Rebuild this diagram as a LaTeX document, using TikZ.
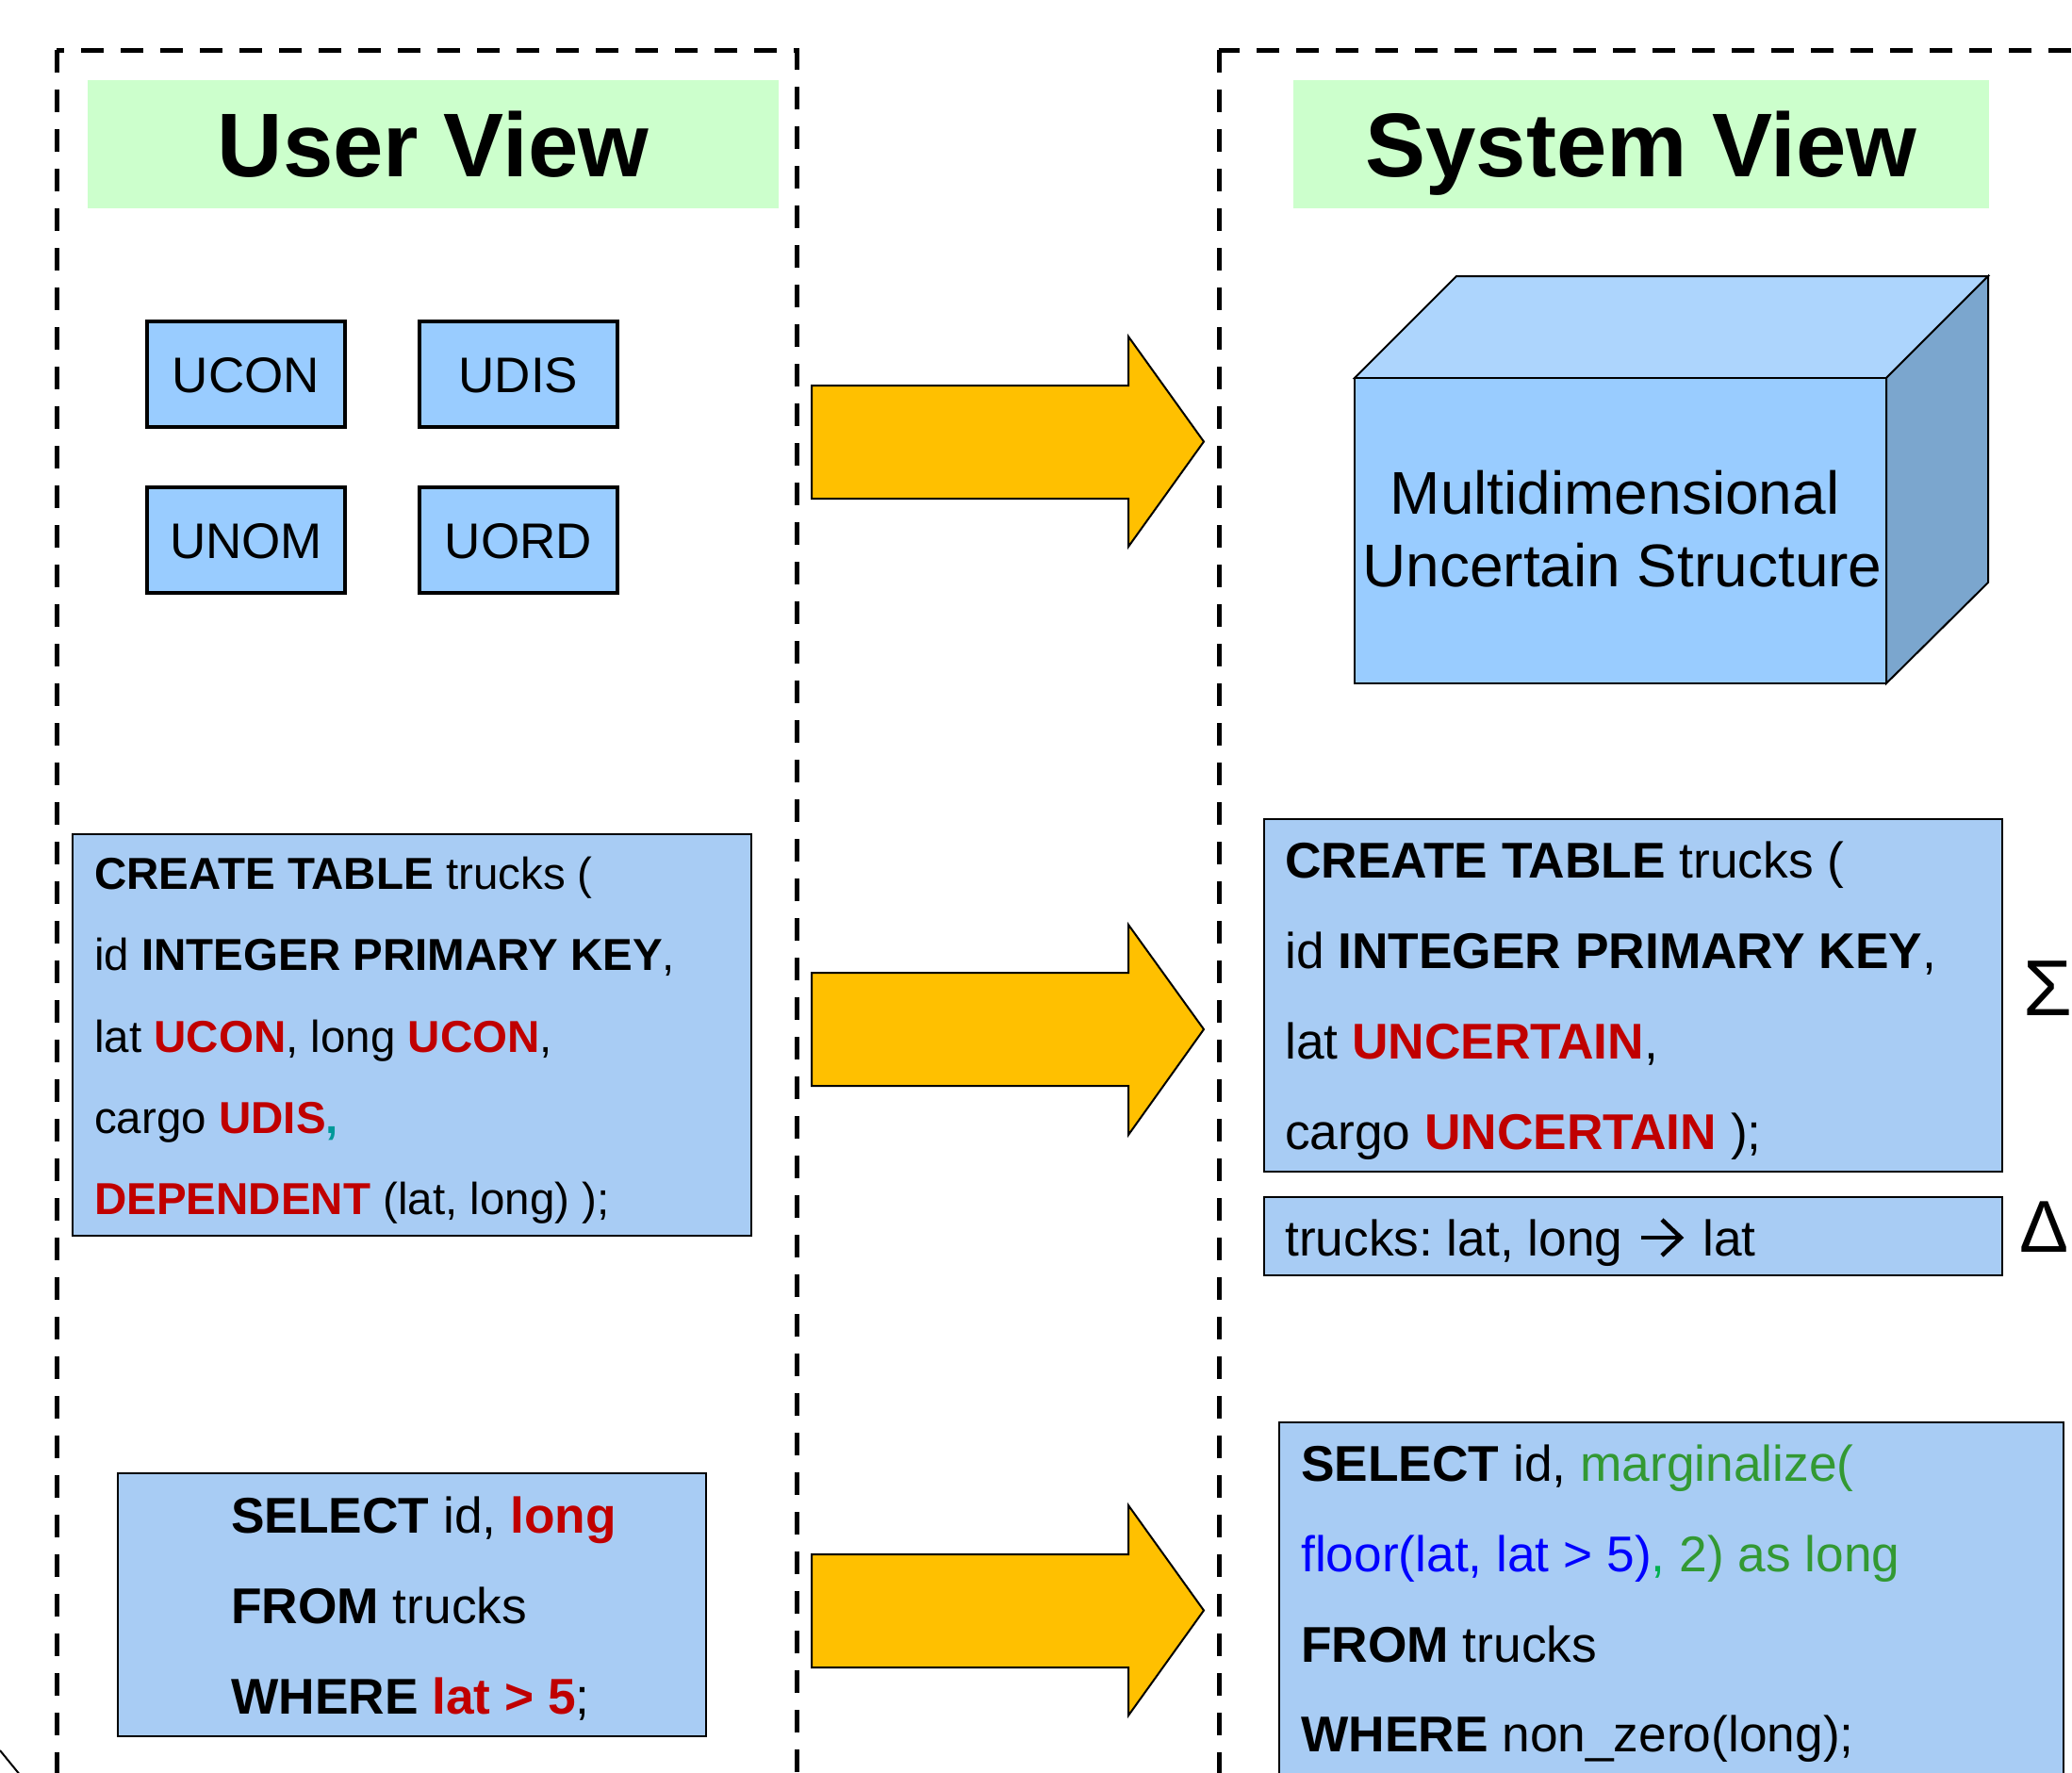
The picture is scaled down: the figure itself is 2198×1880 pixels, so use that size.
\documentclass[tikz,border=0pt]{standalone}
\usepackage{fontspec}
\setmainfont{Liberation Sans}
\definecolor{titlegreen}{HTML}{CCFFCC}
\definecolor{ublue}{HTML}{99CCFF}
\definecolor{codeblue}{HTML}{A8CCF4}
\definecolor{arrowgold}{HTML}{FFC000}
\definecolor{kwred}{HTML}{C00000}
\definecolor{tealc}{HTML}{009999}
\definecolor{fgreen}{HTML}{339933}
\definecolor{commagreen}{HTML}{00B050}
\definecolor{cubetop}{HTML}{ADD5FD}
\definecolor{cubeside}{HTML}{7BA6CE}
\definecolor{cubefront}{HTML}{99CCFF}
\newcommand{\skw}[1]{\textbf{#1}}
\newcommand{\redkw}[1]{\textcolor{kwred}{\textbf{#1}}}
\begin{document}
\frenchspacing
\begin{tikzpicture}[x=1pt,y=-1pt,
  viewframe/.style={draw=black, line width=5pt, dash pattern=on 24pt off 18pt},
  titlebox/.style={fill=titlegreen, inner sep=0pt, text height=69pt, text depth=0pt,
                   font=\bfseries\fontsize{96}{110}\selectfont},
  ubox/.style={draw=black, line width=3.5pt, fill=ublue, inner sep=0pt,
               minimum width=210pt, minimum height=112pt,
               text height=38pt, text depth=0pt, font=\fontsize{53}{64}\selectfont},
  codebox/.style={draw=black, line width=2.5pt, fill=codeblue, inner sep=0pt},
  codeline/.style={anchor=base west, inner sep=0pt, font=\fontsize{53.3}{64}\selectfont},
  smallcodeline/.style={anchor=base west, inner sep=0pt, font=\fontsize{47.5}{57}\selectfont},
  cubeline/.style={anchor=base, inner sep=0pt, font=\fontsize{64}{77}\selectfont},
  blockarrow/.style={draw=black, line width=2pt, fill=arrowgold, line join=miter},
  cubeface/.style={draw=black, line width=2pt, line join=miter},
  fdarrow/.style={draw=black, line width=4.5pt, line join=miter, line cap=butt},
  greek/.style={anchor=base west, inner sep=0pt}
]
\useasboundingbox (0,0) rectangle (2198,1880);
\clip (0,0) rectangle (2198,1880);

% view frames
\draw[viewframe] (60,53) rectangle (845,1960);
\draw[viewframe] (1293,53) rectangle (2400,1960);

% titles
\node[titlebox, minimum width=733pt, minimum height=136pt] (utitle) at (459.5,153) {User View};
\node[titlebox, minimum width=738pt, minimum height=136pt] (stitle) at (1741,153) {System View};

% uncertain type boxes
\node[ubox] (ucon) at (261,397) {UCON};
\node[ubox] (udis) at (550,397) {UDIS};
\node[ubox] (unom) at (261,573) {UNOM};
\node[ubox] (uord) at (550,573) {UORD};

% cube
\filldraw[cubeface, fill=cubetop] (1437,401) -- (1545,293) -- (2109,293) -- (2001,401) -- cycle;
\filldraw[cubeface, fill=cubeside] (2001,401) -- (2109,293) -- (2109,618) -- (2001,725) -- cycle;
\filldraw[cubeface, fill=cubefront] (1437,401) rectangle (2001,725);
\node[cubeline] (cubel1) at (1713,545) {Multidimensional};
\node[cubeline] (cubel2) at (1721,622) {Uncertain Structure};

% block arrows
\draw[blockarrow] (861,409) -- (1197,409) -- (1197,357) -- (1277,468.5) -- (1197,580) -- (1197,529) -- (861,529) -- cycle;
\draw[blockarrow] (861,1032) -- (1197,1032) -- (1197,981) -- (1277,1092) -- (1197,1204) -- (1197,1152) -- (861,1152) -- cycle;
\draw[blockarrow] (861,1649) -- (1197,1649) -- (1197,1597) -- (1277,1708.5) -- (1197,1820) -- (1197,1769) -- (861,1769) -- cycle;

% left CREATE TABLE
\node[codebox, minimum width=720pt, minimum height=426pt] (lcreate) at (437,1098) {};
\node[smallcodeline] (lc1) at (100,943) {\skw{CREATE TABLE} trucks (};
\node[smallcodeline] (lc2) at (100,1029) {id \skw{INTEGER PRIMARY KEY},};
\node[smallcodeline] (lc3) at (100,1116) {lat \redkw{UCON}, long \redkw{UCON},};
\node[smallcodeline] (lc4) at (100,1202) {cargo \redkw{UDIS}\textcolor{tealc}{\textbf{,}}};
\node[smallcodeline] (lc5) at (100,1288) {\redkw{DEPENDENT} (lat, long) );};

% left SELECT
\node[codebox, minimum width=624pt, minimum height=279pt] (lselect) at (437,1702.5) {};
\node[codeline] (ls1) at (245,1626) {\skw{SELECT} id, \redkw{long}};
\node[codeline] (ls2) at (245,1722) {\skw{FROM} trucks};
\node[codeline] (ls3) at (245,1818) {\skw{WHERE} \redkw{lat > 5};};

% right CREATE TABLE
\node[codebox, minimum width=783pt, minimum height=374pt] (rcreate) at (1732.5,1056) {};
\node[codeline] (rc1) at (1363,931) {\skw{CREATE TABLE} trucks (};
\node[codeline] (rc2) at (1363,1027) {id \skw{INTEGER PRIMARY KEY},};
\node[codeline] (rc3) at (1363,1123) {lat \redkw{UNCERTAIN},};
\node[codeline] (rc4) at (1363,1219) {cargo \redkw{UNCERTAIN} );};

% dependency box
\node[codebox, minimum width=783pt, minimum height=83pt] (rdelta) at (1732.5,1311.5) {};
\node[codeline] (rd1) at (1363,1332) {trucks: lat, long};
\node[codeline] (rd2) at (1806,1332) {lat};
\coordinate (fdstart) at ([xshift=19pt,yshift=19pt]rd1.base east);
\coordinate (fdtip) at ([xshift=-24pt,yshift=19pt]rd2.base west);
\draw[fdarrow] (fdstart) -- (fdtip);
\draw[fdarrow] ([xshift=-19pt,yshift=19pt]fdtip) -- ([xshift=1pt]fdtip) -- ([xshift=-19pt,yshift=-19pt]fdtip);

% sigma / delta labels
\node[greek, font=\fontsize{84}{96}\selectfont] (sigma) at (2146,1077) {Σ};
\node[greek, font=\fontsize{78}{90}\selectfont] (delta) at (2142,1328) {Δ};

% right SELECT
\node[codebox, minimum width=832pt, minimum height=441pt] (rselect) at (1773,1729.5) {};
\node[codeline] (rs1) at (1380,1571) {\skw{SELECT} id, \textcolor{fgreen}{marginalize(}};
\node[codeline] (rs2) at (1380,1667) {\textcolor{blue}{floor(lat, lat > 5)}\textcolor{commagreen}{,} \textcolor{fgreen}{2) as long}};
\node[codeline] (rs3) at (1380,1763) {\skw{FROM} trucks};
\node[codeline] (rs4) at (1380,1858) {\skw{WHERE} non\_zero(long);};

% cut-off line fragment at bottom left
\coordinate (fragA) at (0,1857);
\coordinate (fragB) at (22,1884);
\draw[line width=2pt] (fragA) -- (fragB);
\end{tikzpicture}
\end{document}
